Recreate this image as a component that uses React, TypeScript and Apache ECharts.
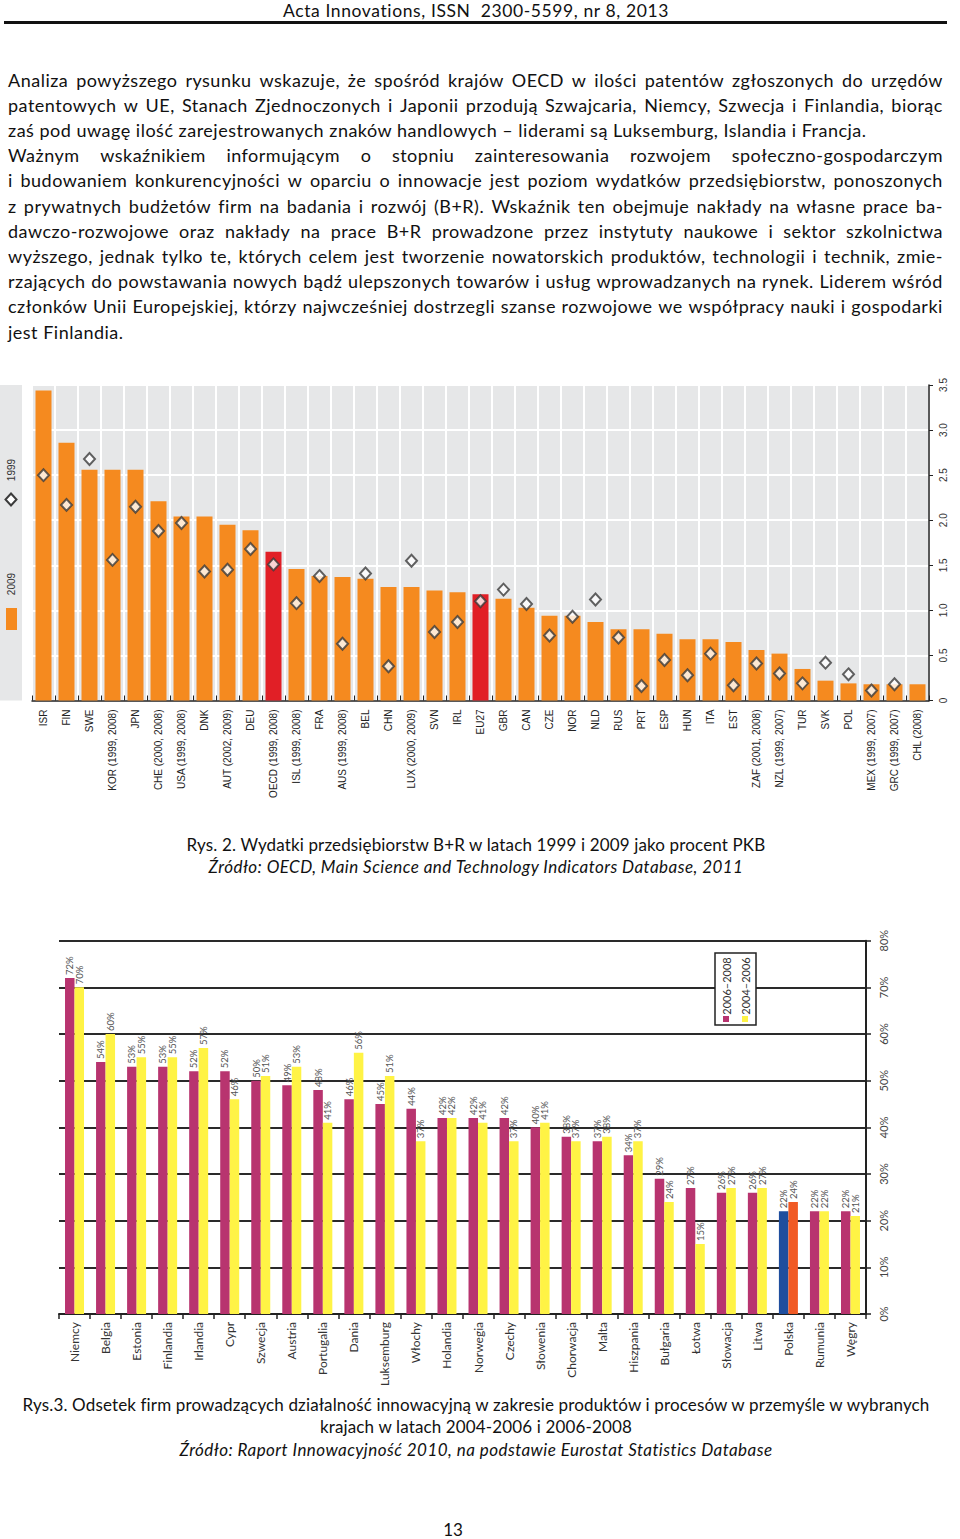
import React, { useEffect, useRef } from 'react';
import * as echarts from 'echarts';

// ---------- Figure 2 data (OECD BERD, % of GDP) ----------
const oecdCountries = [
  'ISR', 'FIN', 'SWE', 'KOR (1999, 2008)', 'JPN', 'CHE (2000, 2008)', 'USA (1999, 2008)', 'DNK',
  'AUT (2002, 2009)', 'DEU', 'OECD (1999, 2008)', 'ISL (1999, 2008)', 'FRA', 'AUS (1999, 2008)', 'BEL',
  'CHN', 'LUX (2000, 2009)', 'SVN', 'IRL', 'EU27', 'GBR', 'CAN', 'CZE', 'NOR', 'NLD', 'RUS', 'PRT',
  'ESP', 'HUN', 'ITA', 'EST', 'ZAF (2001, 2008)', 'NZL (1999, 2007)', 'TUR', 'SVK', 'POL',
  'MEX (1999, 2007)', 'GRC (1999, 2007)', 'CHL (2008)',
];
const berd2009 = [
  3.44, 2.86, 2.56, 2.56, 2.56, 2.21, 2.04, 2.04, 1.95, 1.89, 1.65, 1.46, 1.38, 1.37, 1.35, 1.26, 1.26,
  1.22, 1.20, 1.18, 1.13, 1.03, 0.94, 0.94, 0.87, 0.79, 0.79, 0.74, 0.68, 0.68, 0.65, 0.56, 0.52, 0.35,
  0.22, 0.19, 0.18, 0.18, 0.18,
];
const berd1999: (number | null)[] = [
  2.50, 2.17, 2.68, 1.56, 2.15, 1.88, 1.97, 1.43, 1.45, 1.68, 1.51, 1.08, 1.38, 0.63, 1.41, 0.38, 1.55,
  0.76, 0.87, 1.10, 1.23, 1.07, 0.72, 0.93, 1.12, 0.70, 0.16, 0.45, 0.28, 0.52, 0.17, 0.41, 0.30, 0.19,
  0.42, 0.29, 0.11, 0.18, null,
];
const highlightedAggregates = ['OECD (1999, 2008)', 'EU27'];

// ---------- Figure 3 data (innovative firms, %) ----------
const euCountries = [
  'Niemcy', 'Belgia', 'Estonia', 'Finlandia', 'Irlandia', 'Cypr', 'Szwecja', 'Austria', 'Portugalia',
  'Dania', 'Luksemburg', 'Włochy', 'Holandia', 'Norwegia', 'Czechy', 'Słowenia', 'Chorwacja', 'Malta',
  'Hiszpania', 'Bułgaria', 'Łotwa', 'Słowacja', 'Litwa', 'Polska', 'Rumunia', 'Węgry',
];
const innov2006_2008 = [72, 54, 53, 53, 52, 52, 50, 49, 48, 46, 45, 44, 42, 42, 42, 40, 38, 37, 34, 29, 27, 26, 26, 22, 22, 22];
const innov2004_2006 = [70, 60, 55, 55, 57, 46, 51, 53, 41, 56, 51, 37, 42, 41, 37, 41, 37, 38, 37, 24, 15, 27, 27, 24, 22, 21];
const highlightedCountry = 'Polska';

// ---------- page text ----------
const headerText = 'Acta Innovations, ISSN  2300-5599, nr 8, 2013';
const bodyLines: [string, boolean][] = [
  ['Analiza powyższego rysunku wskazuje, że spośród krajów OECD w ilości patentów zgłoszonych do urzędów', true],
  ['patentowych w UE, Stanach Zjednoczonych i Japonii przodują Szwajcaria, Niemcy, Szwecja i Finlandia, biorąc', true],
  ['zaś pod uwagę ilość zarejestrowanych znaków handlowych – liderami są Luksemburg, Islandia i Francja.', false],
  ['Ważnym wskaźnikiem informującym o stopniu zainteresowania rozwojem społeczno-gospodarczym', true],
  ['i budowaniem konkurencyjności w oparciu o innowacje jest poziom wydatków przedsiębiorstw, ponoszonych', true],
  ['z prywatnych budżetów firm na badania i rozwój (B+R). Wskaźnik ten obejmuje nakłady na własne prace ba-', true],
  ['dawczo-rozwojowe oraz nakłady na prace B+R prowadzone przez instytuty naukowe i sektor szkolnictwa', true],
  ['wyższego, jednak tylko te, których celem jest tworzenie nowatorskich produktów, technologii i technik, zmie-', true],
  ['rzających do powstawania nowych bądź ulepszonych towarów i usług wprowadzanych na rynek. Liderem wśród', true],
  ['członków Unii Europejskiej, którzy najwcześniej dostrzegli szanse rozwojowe we współpracy nauki i gospodarki', true],
  ['jest Finlandia.', false],
];
const caption2 = 'Rys. 2. Wydatki przedsiębiorstw B+R w latach 1999 i 2009 jako procent PKB';
const source2 = 'Źródło: OECD, Main Science and Technology Indicators Database, 2011';
const caption3a = 'Rys.3. Odsetek firm prowadzących działalność innowacyjną w zakresie produktów i procesów w przemyśle w wybranych';
const caption3b = 'krajach w latach 2004-2006 i 2006-2008';
const source3 = 'Źródło: Raport Innowacyjność 2010, na podstawie Eurostat Statistics Database';
const pageNumber = '13';

const FONT = 'Lato, "Open Sans", sans-serif';

function useEChart(option: any) {
  const ref = useRef<HTMLDivElement>(null);
  useEffect(() => {
    if (!ref.current) return;
    const chart = echarts.init(ref.current, undefined, { renderer: 'svg' });
    chart.setOption(option);
    return () => chart.dispose();
  }, []);
  return ref;
}

const GRAY = '#e6e7e8';
const HALF_PI = Math.PI / 2;

function rdOption() {
  return {
    animation: false,
    grid: { left: 32, right: 31, top: 10, bottom: 124.5, show: true, backgroundColor: GRAY, borderWidth: 0 },
    xAxis: {
      type: 'category',
      data: oecdCountries,
      boundaryGap: true,
      axisLine: { show: true, lineStyle: { color: '#222', width: 1.5 } },
      axisTick: { show: true, inside: true, length: 5, alignWithLabel: false, lineStyle: { color: '#222', width: 1 } },
      axisLabel: { rotate: 90, interval: 0, fontSize: 10, fontFamily: 'Liberation Sans', color: '#222', margin: 9 },
      splitLine: { show: true, interval: 0, lineStyle: { color: '#fff', width: 2 } },
    },
    yAxis: {
      type: 'value',
      position: 'right',
      min: 0,
      max: 3.5,
      interval: 0.5,
      axisLine: { show: true, lineStyle: { color: '#222', width: 1.5 } },
      axisTick: { show: true, length: 4, lineStyle: { color: '#222' } },
      axisLabel: {
        rotate: 90, fontSize: 10, fontFamily: 'Liberation Sans', color: '#333', margin: 9,
        formatter: (v: number) => (v === 0 ? '0' : v.toFixed(1)),
      },
      splitLine: { show: true, lineStyle: { color: '#fff', width: 2 } },
    },
    series: [
      {
        name: '2009',
        type: 'bar',
        barWidth: 16,
        data: berd2009.map((v, i) => ({
          value: v,
          itemStyle: { color: highlightedAggregates.includes(oecdCountries[i]) ? '#e11f26' : '#f58a1f' },
        })),
      },
      {
        name: '1999',
        type: 'scatter',
        symbol: 'diamond',
        symbolSize: [11, 12],
        z: 5,
        data: berd1999.map((v) => (v === null ? '-' : v)),
        itemStyle: { color: '#ffffff', borderColor: '#3b3b3b', borderWidth: 2 },
      },
    ],
    graphic: [
      { type: 'rect', z: 10, shape: { x: 0, y: 10, width: 22, height: 315.5 }, style: { fill: GRAY } },
      {
        type: 'text', z: 11, x: 11, y: 95, rotation: HALF_PI,
        style: { text: '1999', fontSize: 10, fontFamily: 'Liberation Sans', fill: '#333', align: 'center', verticalAlign: 'middle', textAlign: 'center', textVerticalAlign: 'middle' },
      },
      {
        type: 'polygon', z: 11,
        shape: { points: [[11, 118.5], [16.5, 124.5], [11, 130.5], [5.5, 124.5]] },
        style: { fill: '#fff', stroke: '#3b3b3b', lineWidth: 2 },
      },
      {
        type: 'text', z: 11, x: 11, y: 209, rotation: HALF_PI,
        style: { text: '2009', fontSize: 10, fontFamily: 'Liberation Sans', fill: '#333', align: 'center', verticalAlign: 'middle', textAlign: 'center', textVerticalAlign: 'middle' },
      },
      { type: 'rect', z: 11, shape: { x: 6, y: 233, width: 11, height: 22 }, style: { fill: '#f58a1f' } },
    ],
  };
}

function innovOption() {
  const barLabel = {
    show: true, position: 'top', rotate: 90, align: 'left', verticalAlign: 'middle', distance: 3,
    formatter: '{c}%', fontSize: 9.5, fontFamily: FONT, color: '#555',
  };
  return {
    animation: false,
    grid: { left: 59, right: 94, top: 20.7, bottom: 76 },
    xAxis: {
      type: 'category',
      data: euCountries,
      axisLine: { show: true, lineStyle: { color: '#222', width: 2 } },
      axisTick: { show: true, length: 5, alignWithLabel: false, lineStyle: { color: '#222', width: 1.5 } },
      axisLabel: { rotate: 90, interval: 0, fontSize: 12, fontFamily: FONT, color: '#333', margin: 8 },
    },
    yAxis: {
      type: 'value',
      position: 'right',
      min: 0,
      max: 80,
      interval: 10,
      axisLine: { show: true, lineStyle: { color: '#222', width: 2 } },
      axisTick: { show: true, length: 5, lineStyle: { color: '#222', width: 1.5 } },
      axisLabel: { rotate: 90, formatter: '{value}%', fontSize: 11, fontFamily: FONT, color: '#444', margin: 12 },
      splitLine: { show: true, lineStyle: { color: '#2a2a2a', width: 2 } },
    },
    series: [
      {
        name: '2006–2008',
        type: 'bar',
        barWidth: 9.5,
        barGap: '0%',
        data: innov2006_2008.map((v, i) => ({
          value: v,
          itemStyle: { color: euCountries[i] === highlightedCountry ? '#1f4e9e' : '#b8346f' },
        })),
        label: barLabel,
      },
      {
        name: '2004–2006',
        type: 'bar',
        barWidth: 9.5,
        barGap: '0%',
        data: innov2004_2006.map((v, i) => ({
          value: v,
          itemStyle: { color: euCountries[i] === highlightedCountry ? '#f15a24' : '#fff345' },
        })),
        label: barLabel,
      },
    ],
    graphic: [
      { type: 'rect', z: 100, shape: { x: 715, y: 33, width: 41, height: 72 }, style: { fill: '#fff', stroke: '#222', lineWidth: 1.5 } },
      {
        type: 'text', z: 101, x: 726, y: 66, rotation: HALF_PI,
        style: { text: '2006–2008', fontSize: 11, fontFamily: FONT, fill: '#333', align: 'center', verticalAlign: 'middle', textAlign: 'center', textVerticalAlign: 'middle' },
      },
      { type: 'rect', z: 101, shape: { x: 723, y: 96, width: 6, height: 6 }, style: { fill: '#b8346f' } },
      {
        type: 'text', z: 101, x: 745, y: 66, rotation: HALF_PI,
        style: { text: '2004–2006', fontSize: 11, fontFamily: FONT, fill: '#333', align: 'center', verticalAlign: 'middle', textAlign: 'center', textVerticalAlign: 'middle' },
      },
      { type: 'rect', z: 101, shape: { x: 742, y: 96, width: 6, height: 6 }, style: { fill: '#fff345' } },
    ],
  };
}

function JustLine({ text, justify, top }: { text: string; justify: boolean; top: number }) {
  const base: React.CSSProperties = {
    position: 'absolute', left: 8, top, width: 935, height: 25, lineHeight: '25px',
    fontSize: 18, letterSpacing: '0.5px', fontFamily: FONT, color: '#111', whiteSpace: 'nowrap',
  };
  if (!justify) return <div style={base}>{text}</div>;
  return (
    <div style={{ ...base, display: 'flex', justifyContent: 'space-between' }}>
      {text.split(' ').map((w, i) => (
        <span key={i}>{w}</span>
      ))}
    </div>
  );
}

function Centered({ text, top, italic, size = 17, spacing = 0.14, height = 24 }: { text: string; top: number; italic?: boolean; size?: number; spacing?: number; height?: number }) {
  return (
    <div
      style={{
        position: 'absolute', left: 0, width: 952, top, height, lineHeight: `${height}px`, textAlign: 'center',
        fontSize: size, letterSpacing: `${spacing}px`, fontFamily: FONT, color: '#111',
        fontStyle: italic ? 'italic' : 'normal', whiteSpace: 'pre',
      }}
    >
      {text}
    </div>
  );
}

export default function App() {
  const rdRef = useEChart(rdOption());
  const innovRef = useEChart(innovOption());
  useEffect(() => {
    document.body.style.margin = '0';
  }, []);
  return (
    <div style={{ position: 'relative', width: 960, height: 1539, background: '#fff', overflow: 'hidden' }}>
      <Centered text={headerText} top={1} size={17.5} spacing={0.6} height={20} />
      <div style={{ position: 'absolute', left: 4, top: 21, width: 943, height: 2.5, background: '#111' }} />
      {bodyLines.map(([t, j], i) => (
        <JustLine key={i} text={t} justify={j} top={67.5 + i * 25.2} />
      ))}
      <div ref={rdRef} style={{ position: 'absolute', left: 0, top: 375, width: 960, height: 450 }} />
      <Centered text={caption2} top={833} />
      <Centered text={source2} top={855} italic spacing={0.45} />
      <div ref={innovRef} style={{ position: 'absolute', left: 0, top: 920, width: 960, height: 470 }} />
      <Centered text={caption3a} top={1393} />
      <Centered text={caption3b} top={1415} />
      <Centered text={source3} top={1438} italic spacing={0.45} />
      <div
        style={{
          position: 'absolute', left: 433, width: 40, top: 1518, height: 24, lineHeight: '24px', textAlign: 'center',
          fontSize: 17, fontFamily: FONT, color: '#111',
        }}
      >
        {pageNumber}
      </div>
    </div>
  );
}
